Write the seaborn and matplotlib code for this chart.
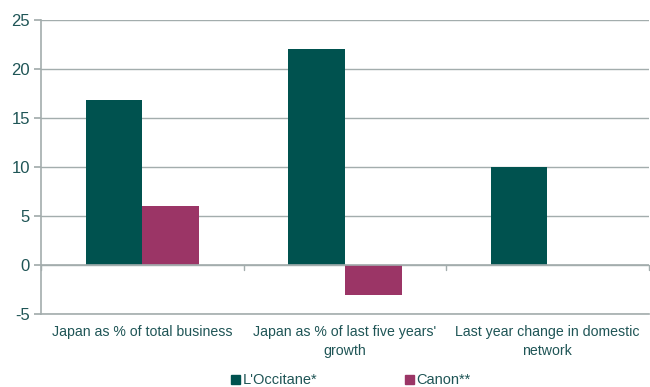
import matplotlib
matplotlib.use("Agg")
import matplotlib.pyplot as plt
import seaborn as sns
import pandas as pd
import numpy as np

categories = ["Japan as % of total business",
              "Japan as % of last five years'\ngrowth",
              "Last year change in domestic\nnetwork"]
series = ["L'Occitane*", "Canon**"]
loccitane = [16.8, 22.0, 10.0]
canon = [6.0, -3.1, np.nan]
yticks = [-5, 0, 5, 10, 15, 20, 25]

colors = ["#00524F", "#9B3566"]
text_color = "#1F5556"
grid_color = "#A3ADAD"

df = pd.DataFrame({
    "category": categories * 2,
    "series": [series[0]] * 3 + [series[1]] * 3,
    "value": loccitane + canon,
})

sns.set_theme(style="white")
plt.rcParams['font.family'] = ['Liberation Sans', 'DejaVu Sans']

fig = plt.figure(figsize=(6.5, 3.87), dpi=100)
ax = fig.add_axes([0.063, 0.189, 0.935, 0.759])

sns.barplot(data=df, x="category", y="value", hue="series", palette=colors,
            width=0.56, saturation=1, ax=ax, legend=True, linewidth=0)

ax.set_ylim(-5, 25)
ax.set_xlim(-0.5, len(categories) - 0.5)
ax.set_yticks(yticks)
ax.set_yticklabels([str(t) for t in yticks], color=text_color, fontsize=12)
ax.yaxis.grid(True, color=grid_color, linewidth=1)
ax.set_axisbelow(True)
ax.axhline(0, color=grid_color, linewidth=1.2, zorder=3)
for b in np.arange(len(categories) + 1) - 0.5:
    ax.plot([b, b], [0, -0.5], color=grid_color, linewidth=1, zorder=3, clip_on=False)

ax.tick_params(axis='y', length=5, color=grid_color, pad=3, left=True)
ax.tick_params(axis='x', length=0, pad=8)
for lbl in ax.get_xticklabels():
    lbl.set_color(text_color)
    lbl.set_fontsize(10.2)
    lbl.set_linespacing(1.45)
ax.set_xlabel("")
ax.set_ylabel("")

for s in ["top", "right"]:
    ax.spines[s].set_visible(False)
ax.spines["left"].set_color(grid_color)
ax.spines["bottom"].set_color(grid_color)
ax.spines["left"].set_linewidth(1.2)
ax.spines["bottom"].set_linewidth(1.2)

ax.legend_.remove()
handles = [plt.Rectangle((0, 0), 1, 1, color=c) for c in colors]
leg = fig.legend(handles, series, loc="lower center", bbox_to_anchor=(0.54, -0.035),
                 ncol=2, frameon=False, fontsize=10.5, handlelength=0.6, handleheight=0.6,
                 handletextpad=0.2, columnspacing=6)
for t in leg.get_texts():
    t.set_color(text_color)

fig.savefig("out.png", dpi=100)
